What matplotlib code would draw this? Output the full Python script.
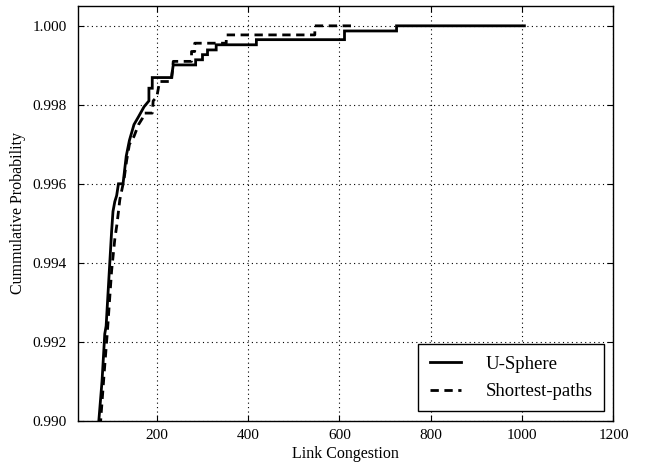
import matplotlib
matplotlib.use("Agg")
import matplotlib.pyplot as plt
from matplotlib.ticker import FormatStrFormatter

# Empirical CDF of link congestion (upper tail), traced as polyline vertices.
usphere_congestion = [72, 73, 80, 86, 89, 93, 97, 101, 104, 108, 112, 116,
                      126, 133, 140, 150, 160, 172, 182.7, 182.7, 190, 190,
                      232, 236, 285, 285, 300, 300, 311, 311, 330, 330, 418,
                      418, 611, 611, 725, 725, 1005]
usphere_cdf = [0.98985, 0.99000, 0.99100, 0.99220, 0.99240, 0.99320, 0.99400,
               0.99480, 0.99530, 0.99555, 0.99570, 0.99600, 0.99600, 0.99670,
               0.99710, 0.99750, 0.99770, 0.99795, 0.99810, 0.99842, 0.99842,
               0.99869, 0.99869, 0.99901, 0.99901, 0.99914, 0.99914, 0.99927,
               0.99927, 0.99939, 0.99939, 0.99952, 0.99952, 0.99965, 0.99965,
               0.99987, 0.99987, 1.00000, 1.00000]

shortest_congestion = [76, 77, 84, 92, 101, 108, 113, 119, 128, 134, 140,
                       150, 160, 168, 172, 190, 192, 200, 206, 232, 236, 276,
                       276, 283, 283, 352, 352, 546, 546, 626]
shortest_cdf = [0.98985, 0.99000, 0.99110, 0.99230, 0.99380, 0.99460,
                0.99500, 0.99560, 0.99610, 0.99660, 0.99700, 0.99720,
                0.99750, 0.99765, 0.99779, 0.99779, 0.99810, 0.99820,
                0.99859, 0.99859, 0.99910, 0.99910, 0.99935, 0.99935,
                0.99956, 0.99956, 0.99977, 0.99977, 1.00000, 1.00000]

x_ticks = [200, 400, 600, 800, 1000, 1200]
y_ticks = [0.990, 0.992, 0.994, 0.996, 0.998, 1.000]

plt.rcParams["font.family"] = ["Liberation Serif", "DejaVu Serif"]
plt.rcParams["xtick.direction"] = "in"
plt.rcParams["ytick.direction"] = "in"

fig = plt.figure(figsize=(6.54, 4.68), dpi=100)
ax = fig.add_axes([0.119, 0.101, 0.819, 0.886])

ax.plot(usphere_congestion, usphere_cdf, color="black", linewidth=2.0,
        solid_joinstyle="miter", label="U-Sphere")
ax.plot(shortest_congestion, shortest_cdf, color="black", linewidth=2.0,
        linestyle=(0, (3.0, 2.0)), label="Shortest-paths")

ax.set_xlim(27, 1200)
ax.set_ylim(0.990, 1.0005)
ax.set_xticks(x_ticks)
ax.set_yticks(y_ticks)
ax.yaxis.set_major_formatter(FormatStrFormatter("%.3f"))
ax.tick_params(top=True, right=True, length=4, width=0.8, labelsize=11)
ax.tick_params(axis="x", pad=6)
ax.tick_params(axis="y", pad=8)
ax.grid(True, color="black", linestyle=(0, (1, 3)), linewidth=0.8)
for s in ax.spines.values():
    s.set_linewidth(1.0)

ax.set_xlabel("Link Congestion", fontsize=11.5, labelpad=3)
ax.set_ylabel("Cummulative Probability", fontsize=11.5, labelpad=5)

leg = ax.legend(loc="lower right", fontsize=13.5, frameon=True, fancybox=False,
                edgecolor="black", framealpha=1, borderpad=0.6,
                handlelength=1.7, handletextpad=1.3, labelspacing=0.55,
                borderaxespad=0.5)
leg.get_frame().set_linewidth(1.0)

fig.savefig("out.png", dpi=100)
